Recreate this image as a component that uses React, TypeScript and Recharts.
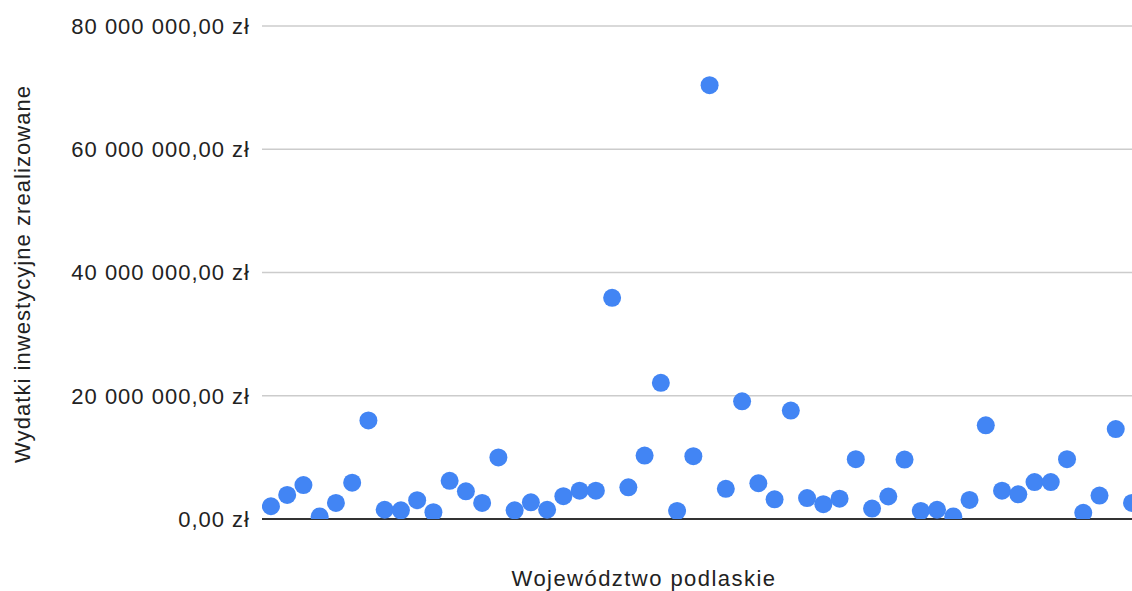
import React from "react";
import { ScatterChart, Scatter, XAxis, YAxis, CartesianGrid } from "recharts";

const values: number[] = [
  2070000, 3900000, 5500000, 400000, 2600000, 5900000, 16000000, 1500000, 1400000, 3050000,
  1100000, 6200000, 4500000, 2600000, 10000000, 1400000, 2700000, 1500000, 3700000, 4600000,
  4600000, 35900000, 5150000, 10300000, 22100000, 1300000, 10200000, 70400000, 4900000, 19100000,
  5800000, 3200000, 17600000, 3400000, 2400000, 3300000, 9700000, 1700000, 3650000, 9650000,
  1300000, 1500000, 400000, 3100000, 15200000, 4600000, 4000000, 6000000, 6000000, 9700000,
  1000000, 3800000, 14600000, 2600000,
];

const yTicks: number[] = [0, 20000000, 40000000, 60000000, 80000000];

const data = values.map((v, i) => ({ idx: i + 1, value: v }));

const FONT = '"Liberation Sans", Arial, sans-serif';

function formatPLN(v: number): string {
  const intPart = Math.round(v).toString().replace(/\B(?=(\d{3})+(?!\d))/g, " ");
  return `${intPart},00 zł`;
}

const Dot = (props: any) => {
  const { cx, cy } = props;
  if (cx == null || cy == null) return null;
  return <circle cx={cx} cy={cy} r={9} fill="#4285F4" />;
};

export default function App() {
  return (
    <div style={{ position: "absolute", left: 0, top: 0, width: 1132, height: 591 }}>
      <ScatterChart
        width={1132}
        height={591}
        margin={{ top: 26, right: 0, bottom: 0, left: 0 }}
        style={{ fontFamily: FONT }}
      >
        <CartesianGrid horizontal={true} vertical={false} stroke="#cccccc" strokeWidth={1.5} />
        <XAxis
          type="number"
          dataKey="idx"
          domain={[0.45, 54]}
          allowDataOverflow
          tick={false}
          tickLine={false}
          axisLine={{ stroke: "#333333", strokeWidth: 2 }}
          height={72}
          label={(p: any) => (
            <text x={644} y={578} textAnchor="middle" dominantBaseline="central" fontSize={22} letterSpacing={1.45} fill="#222" fontFamily={FONT}>
              Województwo podlaskie
            </text>
          )}
        />
        <YAxis
          type="number"
          dataKey="value"
          domain={[0, 80000000]}
          ticks={yTicks}
          allowDataOverflow
          width={262}
          axisLine={false}
          tickLine={false}
          tickSize={6}
          tickMargin={6}
          tickFormatter={formatPLN}
          tick={{ fontSize: 22, fill: "#222", fontFamily: FONT, letterSpacing: 1.0 }}
          label={(p: any) => (
            <text
              x={22}
              y={274}
              transform="rotate(-90, 22, 274)"
              textAnchor="middle"
              dominantBaseline="central"
              fontSize={22}
              letterSpacing={1.05}
              fill="#222"
              fontFamily={FONT}
            >
              Wydatki inwestycyjne zrealizowane
            </text>
          )}
        />
        <Scatter data={data} shape={<Dot />} isAnimationActive={false} />
      </ScatterChart>
    </div>
  );
}
